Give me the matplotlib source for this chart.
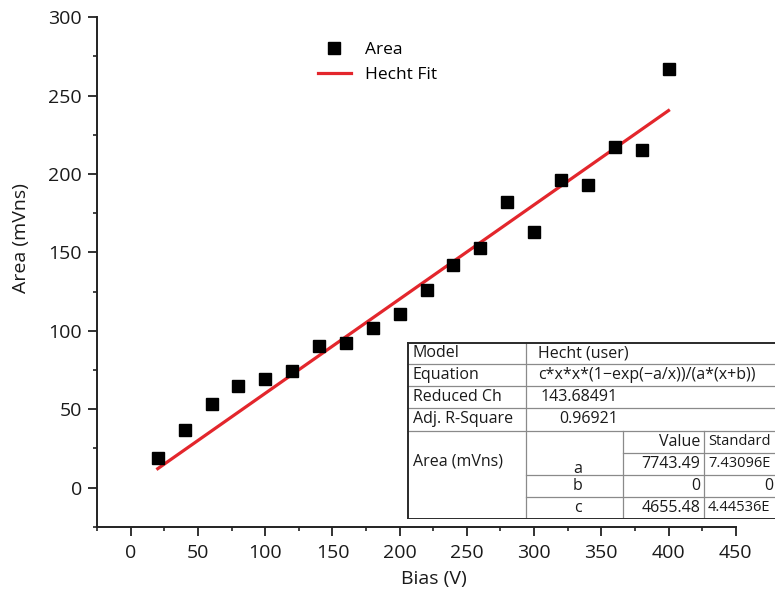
import numpy as np
import matplotlib.pyplot as plt
from matplotlib.ticker import MultipleLocator

plt.rcParams['font.family'] = ['Open Sans', 'DejaVu Sans']

# measured signal area vs. detector bias
bias = [20, 40, 60, 80, 100, 120, 140, 160, 180, 200,
        220, 240, 260, 280, 300, 320, 340, 360, 380, 400]
area = [19, 37, 53, 64.5, 69.5, 74.5, 90, 92.5, 102, 110.5,
        126, 142, 152.5, 182, 163, 196, 193, 217, 215.5, 267]

# fit report (Hecht model)
stat_names = ['Model', 'Equation', 'Reduced Ch', 'Adj. R-Square']
stat_values = ['Hecht (user)', 'c*x*x*(1\u2212exp(\u2212a/x))/(a*(x+b))',
               '143.68491', '0.96921']
param_names = ['a', 'b', 'c']
param_values = [7743.49, 0, 4655.48]
param_errors = ['7.43096E', '0', '4.44536E']

fit_a, fit_b, fit_c = param_values


def hecht(x, a, b, c):
    return c * x * x * (1 - np.exp(-a / x)) / (a * (x + b))


xfit = np.linspace(min(bias), max(bias), 200)
yfit = hecht(xfit, fit_a, fit_b, fit_c)

fig = plt.figure(figsize=(7.75, 5.94), dpi=100)
ax = fig.add_axes([0.1255, 0.1133, 0.8238, 0.8576])

line, = ax.plot(xfit, yfit, color='#e3262c', lw=2.3, label='Hecht Fit', zorder=2)
pts, = ax.plot(bias, area, 's', color='black', ms=8.5, label='Area', zorder=3)

ax.set_xlim(-25, 450)
ax.set_ylim(-25, 300)
ax.xaxis.set_major_locator(MultipleLocator(50))
ax.xaxis.set_minor_locator(MultipleLocator(25))
ax.yaxis.set_major_locator(MultipleLocator(50))
ax.yaxis.set_minor_locator(MultipleLocator(25))

for side in ['top', 'right']:
    ax.spines[side].set_visible(False)
for side in ['left', 'bottom']:
    ax.spines[side].set_linewidth(1.4)
    ax.spines[side].set_color('#222222')

ax.tick_params(which='major', length=6.5, width=1.3, color='#222222',
               labelsize=14, labelcolor='#1a1a1a')
ax.tick_params(axis='x', which='major', pad=6)
ax.tick_params(axis='y', which='major', pad=4.5)
ax.tick_params(which='minor', length=3, width=1.2, color='#222222')

ax.set_xlabel('Bias (V)', fontsize=14, color='#1a1a1a')
ax.set_ylabel('Area (mVns)', fontsize=14, color='#1a1a1a')
ax.xaxis.set_label_coords(0.527, -0.085)
ax.yaxis.set_label_coords(-0.105, 0.567)

ax.legend(handles=[pts, line], loc='upper left', frameon=False,
          bbox_to_anchor=(318 / 775, 1 - 42 / 594), bbox_transform=fig.transFigure,
          borderpad=0, borderaxespad=0, handlelength=1.9, handletextpad=0.8,
          labelspacing=0.5, fontsize=12.5)

# fit report table, laid out in its own pixel-sized axes
tw, th = 368, 177
tab = fig.add_axes([407 / 775, (594 - 519) / 594, tw / 775, th / 594])
tab.set_xlim(0, tw)
tab.set_ylim(th, 0)
tab.axis('off')
tab.add_patch(plt.Rectangle((0, 0), tw, th, facecolor='white', edgecolor='none'))

rh = th / 8
cols = [0, 119, 216, 297]
inner = dict(color='#8a8a8a', lw=0.9)
outer = dict(color='#2a2a2a', lw=1.4)

for i in range(1, 5):
    tab.plot([0, tw], [i * rh, i * rh], **inner)
tab.plot([cols[2], tw], [5 * rh, 5 * rh], **inner)
for i in (6, 7):
    tab.plot([cols[1], tw], [i * rh, i * rh], **inner)
tab.plot([cols[1], cols[1]], [0, th], **inner)
for cx in cols[2:]:
    tab.plot([cx, cx], [4 * rh, th], **inner)
tab.plot([0, tw], [0.5, 0.5], **outer)
tab.plot([0, tw], [th - 0.5, th - 0.5], **outer)
tab.plot([0.6, 0.6], [0, th], **outer)

fs = 11.5
txt = dict(fontsize=fs, color='#1a1a1a', va='center')
narrow = dict(txt, fontsize=10.5)
for i, (name, val) in enumerate(zip(stat_names, stat_values)):
    tab.text(6, (i + 0.5) * rh, name, ha='left', **txt)
    if i < 2:
        tab.text(131, (i + 0.5) * rh, val, ha='left', **txt)
    else:
        tab.text(211, (i + 0.5) * rh, val, ha='right', **txt)

tab.text(6, 120, 'Area (mVns)', ha='left', **txt)
tab.text(293, 4.5 * rh, 'Value', ha='right', **txt)
tab.text(301, 4.5 * rh, 'Standard', ha='left', **narrow)
for j, (name, val, err) in enumerate(zip(param_names, param_values, param_errors)):
    yc = (5 + j + 0.5) * rh
    tab.text(171, yc + (5 if j == 0 else 0), name, ha='center', **txt)
    tab.text(293, yc, f'{val:g}', ha='right', **txt)
    if err == '0':
        tab.text(366, yc, err, ha='right', **txt)
    else:
        tab.text(301, yc, err, ha='left', **narrow)

fig.savefig('out.png', dpi=100)
